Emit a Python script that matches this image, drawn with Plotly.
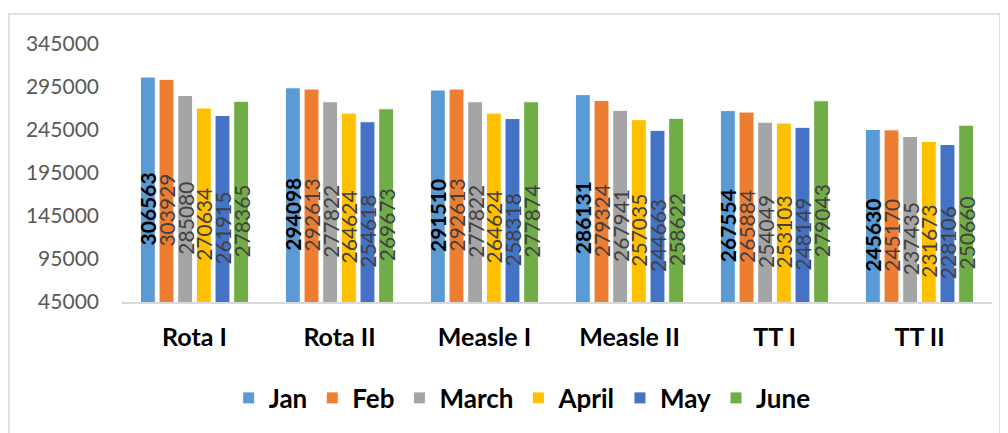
import plotly.graph_objects as go

categories = ["Rota I", "Rota II", "Measle I", "Measle II", "TT I", "TT II"]
months = ["Jan", "Feb", "March", "April", "May", "June"]
jan = [306563, 294098, 291510, 286131, 267554, 245630]
feb = [303929, 292613, 292613, 279324, 265884, 245170]
march = [285080, 277822, 277822, 267941, 254049, 237435]
april = [270634, 264624, 264624, 257035, 253103, 231673]
may = [261915, 254618, 258318, 244663, 248149, 228106]
june = [278365, 269673, 277874, 258622, 279043, 250660]
series = [jan, feb, march, april, may, june]
colors = ["#5B9BD5", "#ED7D31", "#A5A5A5", "#FFC000", "#4472C4", "#70AD47"]
y_ticks = [45000, 95000, 145000, 195000, 245000, 295000, 345000]

FONT = "Lato"

fig = go.Figure()
for i, (name, vals, col) in enumerate(zip(months, series, colors)):
    bold = i == 0
    fig.add_trace(go.Bar(
        x=categories, y=vals, name=name,
        marker=dict(color=col, line=dict(color="white", width=1)),
        text=[str(v) for v in vals],
        textposition="inside",
        insidetextanchor="middle",
        textangle=-90,
        constraintext="none",
        textfont=dict(family=FONT, size=21,
                      color="#000000" if bold else "#404040",
                      weight="bold" if bold else "normal"),
        cliponaxis=False,
    ))

fig.update_layout(
    width=1000, height=425,
    paper_bgcolor="white", plot_bgcolor="white",
    margin=dict(l=114, r=16, t=36, b=131),
    barmode="group", bargap=0.228, bargroupgap=0.2,
    font=dict(family=FONT),
    legend=dict(orientation="h", x=0.46, xanchor="center", y=-0.372, yanchor="middle",
                font=dict(family=FONT, size=26, color="#000000", weight="bold"),
                itemwidth=30, traceorder="normal"),
    xaxis=dict(showline=True, linecolor="#D9D9D9", linewidth=2, showgrid=False,
               ticks="", ticklabelstandoff=12,
               tickfont=dict(family=FONT, size=25, color="#000000", weight="bold")),
    yaxis=dict(range=[45000, 345000], tickvals=y_ticks, ticktext=[str(t) for t in y_ticks],
               showgrid=False, zeroline=False, showline=False, ticks="",
               ticklabelstandoff=22,
               tickfont=dict(family=FONT, size=21, color="#595959")),
    shapes=[dict(type="rect", xref="paper", yref="paper",
                 x0=-0.130, x1=1.009, y0=-0.56, y1=1.116,
                 line=dict(color="#D9D9D9", width=1.5), fillcolor="rgba(0,0,0,0)", layer="below")],
)

fig.write_html("out.html")
